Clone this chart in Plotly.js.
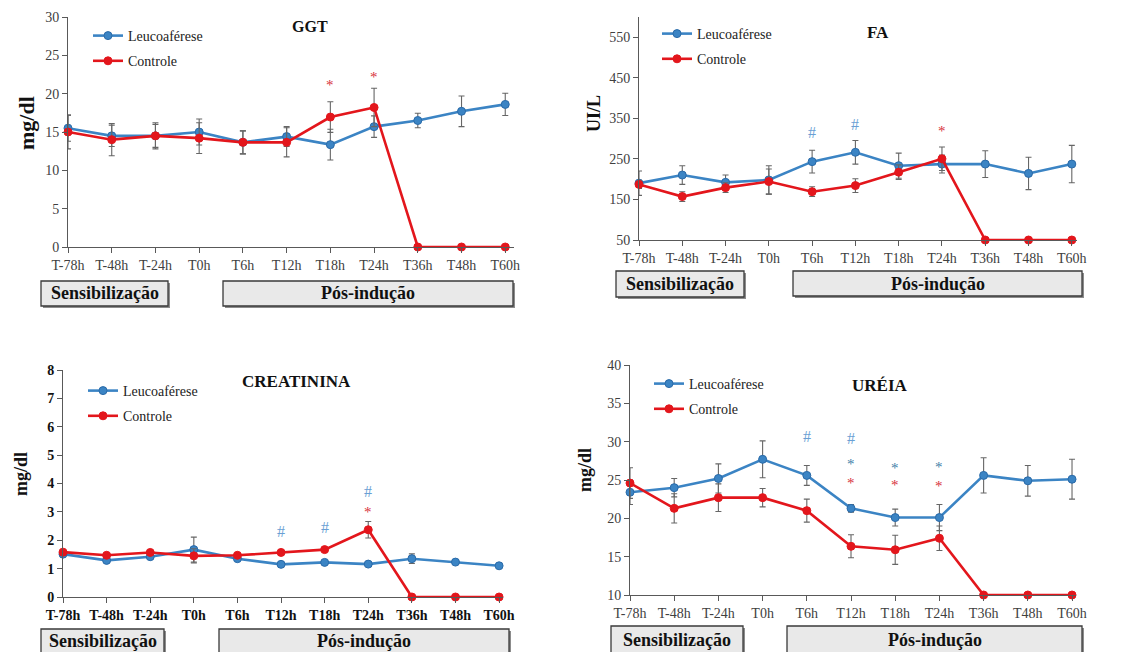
<!DOCTYPE html>
<html>
<head>
<meta charset="utf-8">
<script src="https://cdn.plot.ly/plotly-3.0.1.min.js"></script>
<style>
  html, body { margin: 0; padding: 0; background: #ffffff; }
  #chart { width: 1133px; height: 652px; }
</style>
</head>
<body>
<div id="chart"></div>
<script>
// Sampling times shared by all four panels
const categories = ['T-78h', 'T-48h', 'T-24h', 'T0h', 'T6h', 'T12h', 'T18h', 'T24h', 'T36h', 'T48h', 'T60h'];
const seriesNames = ['Leucoaférese', 'Controle'];

// GGT (mg/dl)
const ggtLeuco       = [15.5, 14.5, 14.5, 15.0, 13.65, 14.4, 13.35, 15.7, 16.5, 17.7, 18.6];
const ggtLeucoErr    = [1.7, 1.4, 1.5, 1.7, 1.5, 1.3, 2.0, 1.4, 0.95, 2.0, 1.45];
const ggtControle    = [15.0, 14.0, 14.5, 14.2, 13.65, 13.65, 16.95, 18.2, 0, 0, 0];
const ggtControleErr = [2.2, 2.1, 1.7, 2.0, 1.5, 1.9, 2.0, 2.5, 0, 0, 0];
const ggtSigCats  = ['T18h', 'T24h'];
const ggtSigY     = [21.5, 22.6];
const ggtSigText  = ['*', '*'];
const ggtSigGroup = ['C', 'C'];

// FA (UI/L)
const faLeuco       = [190, 210, 192, 198, 243, 266, 233, 237, 237, 214, 237];
const faLeucoErr    = [30, 23, 18, 35, 28, 29, 31, 22, 33, 40, 46];
const faControle    = [187, 157, 179, 194, 169, 184, 217, 250, 50, 50, 50];
const faControleErr = [10, 12, 12, 31, 12, 17, 18, 29, 0, 0, 0];
const faSigCats  = ['T6h', 'T12h', 'T24h'];
const faSigY     = [315, 334, 327];
const faSigText  = ['#', '#', '*'];
const faSigGroup = ['L', 'L', 'C'];

// CREATININA (mg/dl)
const creLeuco       = [1.51, 1.29, 1.42, 1.67, 1.35, 1.15, 1.22, 1.16, 1.35, 1.23, 1.10];
const creLeucoErr    = [0.05, 0.05, 0.05, 0.44, 0.06, 0.04, 0.06, 0.04, 0.17, 0.04, 0.04];
const creControle    = [1.58, 1.47, 1.57, 1.45, 1.47, 1.57, 1.67, 2.37, 0, 0, 0];
const creControleErr = [0.04, 0.04, 0.04, 0.25, 0.04, 0.04, 0.04, 0.29, 0, 0, 0];
const creSigCats  = ['T12h', 'T18h', 'T24h', 'T24h'];
const creSigY     = [2.31, 2.46, 3.72, 3.1];
const creSigText  = ['#', '#', '#', '*'];
const creSigGroup = ['L', 'L', 'L', 'C'];

// URÉIA (mg/dl)
const ureLeuco       = [23.4, 24.0, 25.2, 27.7, 25.6, 21.3, 20.1, 20.1, 25.6, 24.9, 25.1];
const ureLeucoErr    = [1.6, 1.2, 1.9, 2.4, 1.3, 0.5, 1.1, 1.7, 2.3, 2.0, 2.6];
const ureControle    = [24.6, 21.3, 22.7, 22.7, 21.0, 16.35, 15.9, 17.4, 10, 10, 10];
const ureControleErr = [2.0, 1.9, 1.8, 1.2, 1.5, 1.5, 1.9, 1.6, 0, 0, 0];
const ureSigCats  = ['T6h', 'T12h', 'T12h', 'T18h', 'T24h', 'T12h', 'T18h', 'T24h'];
const ureSigY     = [30.7, 30.4, 27.5, 27.0, 27.1, 25.0, 24.7, 24.6];
const ureSigText  = ['#', '#', '*', '*', '*', '*', '*', '*'];
const ureSigGroup = ['L', 'L', 'L', 'L', 'L', 'C', 'C', 'C'];

// Phase labels under each time axis
const phaseLabels = ['Sensibilização', 'Pós-indução'];

// ---------------------------------------------------------------------------
const W = 1133, H = 652;
const px = x => x / W;
const py = y => 1 - y / H;

const BLUE = '#3b84c4';
const BLUE_EDGE = '#2a6aa8';
const RED = '#e3161c';
const ERR = '#666666';
const SERIF = 'Liberation Serif';

const panels = [
  { sfx: '',  leuco: ggtLeuco, leucoErr: ggtLeucoErr, ctrl: ggtControle, ctrlErr: ggtControleErr,
    sigCats: ggtSigCats, sigY: ggtSigY, sigText: ggtSigText, sigGroup: ggtSigGroup,
    title: 'GGT', yTitle: 'mg/dl',
    xDom: [68, 514], yDom: [17, 247], xMax: 10.2, yRange: [0, 30], dtick: 5, tick0: 0,
    boldTicks: false, tickColor: '#404040',
    titlePos: [310, 27, 16], yTitlePos: [26, 123, 22],
    legendPos: [88, 20],
    boxes: [[41, 168, 281, 306], [223, 513, 281, 306]], boxTextY: 293 },
  { sfx: '2', leuco: faLeuco, leucoErr: faLeucoErr, ctrl: faControle, ctrlErr: faControleErr,
    sigCats: faSigCats, sigY: faSigY, sigText: faSigText, sigGroup: faSigGroup,
    title: 'FA', yTitle: 'UI/L',
    xDom: [639, 1077], yDom: [16.7, 240], xMax: 10.12, yRange: [50, 600], dtick: 100, tick0: 50,
    boldTicks: false, tickColor: '#404040',
    titlePos: [878, 32, 17], yTitlePos: [594, 114, 18],
    legendPos: [657, 18],
    boxes: [[616, 744, 271, 297], [793, 1082, 271, 296]], boxTextY: 284 },
  { sfx: '3', leuco: creLeuco, leucoErr: creLeucoErr, ctrl: creControle, ctrlErr: creControleErr,
    sigCats: creSigCats, sigY: creSigY, sigText: creSigText, sigGroup: creSigGroup,
    title: 'CREATININA', yTitle: 'mg/dl',
    xDom: [63, 503], yDom: [370, 597], xMax: 10.09, yRange: [0, 8], dtick: 1, tick0: 0,
    boldTicks: true, tickColor: '#111111',
    titlePos: [296, 382, 17], yTitlePos: [21, 474, 18],
    legendPos: [83, 375],
    boxes: [[41, 164, 629, 668], [219, 509, 629, 668]], boxTextY: 641 },
  { sfx: '4', leuco: ureLeuco, leucoErr: ureLeucoErr, ctrl: ureControle, ctrlErr: ureControleErr,
    sigCats: ureSigCats, sigY: ureSigY, sigText: ureSigText, sigGroup: ureSigGroup,
    title: 'URÉIA', yTitle: 'mg/dl',
    xDom: [630, 1076], yDom: [365, 595], xMax: 10.09, yRange: [10, 40], dtick: 5, tick0: 10,
    boldTicks: false, tickColor: '#404040',
    titlePos: [880, 385, 17], yTitlePos: [585, 470, 18],
    legendPos: [649, 368],
    boxes: [[611, 743, 626, 668], [787, 1082, 626, 668]], boxTextY: 640 }
];

const traces = [];
const layout = {
  width: W, height: H,
  margin: { l: 0, r: 0, t: 0, b: 0 },
  paper_bgcolor: '#ffffff', plot_bgcolor: 'rgba(0,0,0,0)',
  font: { family: SERIF, size: 14, color: '#222222' },
  showlegend: true,
  annotations: [], shapes: []
};

function paperText(x, y, text, size, extra) {
  return Object.assign({
    xref: 'paper', yref: 'paper', x: px(x), y: py(y),
    xanchor: 'center', yanchor: 'middle',
    text: text, showarrow: false,
    font: { family: SERIF, size: size, color: '#111111' }
  }, extra || {});
}

panels.forEach((p, i) => {
  const xa = 'x' + p.sfx, ya = 'y' + p.sfx;
  const legendId = i === 0 ? 'legend' : 'legend' + (i + 1);
  const series = [
    { name: seriesNames[0], y: p.leuco, err: p.leucoErr, color: BLUE, edge: BLUE_EDGE },
    { name: seriesNames[1], y: p.ctrl, err: p.ctrlErr, color: RED, edge: RED }
  ];
  series.forEach((s, k) => {
    traces.push({
      type: 'scatter', mode: 'lines+markers',
      x: categories, y: s.y, name: s.name,
      xaxis: xa, yaxis: ya, legend: legendId, legendgroup: legendId + k,
      line: { color: s.color, width: 2.6 },
      marker: { color: s.color, size: 8, symbol: 'circle', line: { color: s.edge, width: 1 } },
      error_y: { type: 'data', array: s.err, visible: true, color: ERR, thickness: 1.1, width: 3 },
      cliponaxis: false
    });
  });

  const tickFont = { family: SERIF, size: 14, color: p.tickColor, weight: p.boldTicks ? 'bold' : 'normal' };
  layout['xaxis' + p.sfx] = {
    domain: [px(p.xDom[0]), px(p.xDom[1])], anchor: ya,
    type: 'category', range: [0, p.xMax],
    showline: true, linecolor: '#595959', linewidth: 1,
    ticks: 'outside', ticklen: 5, tickcolor: '#595959',
    showgrid: false, zeroline: false, fixedrange: true,
    tickfont: tickFont
  };
  layout['yaxis' + p.sfx] = {
    domain: [py(p.yDom[1]), py(p.yDom[0])], anchor: xa,
    range: p.yRange, tick0: p.tick0, dtick: p.dtick,
    showline: true, linecolor: '#595959', linewidth: 1,
    ticks: 'outside', ticklen: 5, tickcolor: '#595959',
    showgrid: false, zeroline: false, fixedrange: true,
    tickfont: tickFont
  };
  layout[legendId] = {
    x: px(p.legendPos[0]), y: py(p.legendPos[1]), xanchor: 'left', yanchor: 'top',
    bgcolor: 'rgba(0,0,0,0)', borderwidth: 0,
    font: { family: SERIF, size: 14, color: '#222222' },
    itemwidth: 30, tracegroupgap: 4
  };

  // Panel title and y axis title
  layout.annotations.push(paperText(p.titlePos[0], p.titlePos[1], '<b>' + p.title + '</b>', p.titlePos[2]));
  layout.annotations.push(paperText(p.yTitlePos[0], p.yTitlePos[1], '<b>' + p.yTitle + '</b>', p.yTitlePos[2],
    { textangle: -90 }));

  // Significance marks
  p.sigCats.forEach((c, j) => {
    const isHash = p.sigText[j] === '#';
    const col = p.sigGroup[j] === 'C' ? '#d8323c' : (isHash ? '#6a9fd4' : '#3f7fa8');
    layout.annotations.push({
      xref: xa, yref: ya, x: c, y: p.sigY[j], text: p.sigText[j], showarrow: false,
      xanchor: 'center', yanchor: 'middle',
      font: { family: SERIF, size: isHash ? 16 : 15, color: col },
      yshift: isHash ? 0 : -3
    });
  });

  // Phase boxes with drop shadow
  p.boxes.forEach((b, j) => {
    layout.shapes.push({
      type: 'rect', xref: 'paper', yref: 'paper', layer: 'below',
      x0: px(b[0] + 2), x1: px(b[1] + 2), y0: py(b[3] + 2), y1: py(b[2] + 2),
      fillcolor: '#8c8c8c', line: { width: 0 }
    });
    layout.shapes.push({
      type: 'rect', xref: 'paper', yref: 'paper', layer: 'below',
      x0: px(b[0]), x1: px(b[1]), y0: py(b[3]), y1: py(b[2]),
      fillcolor: '#e9e9e9', line: { color: '#3a3a3a', width: 1.3 }
    });
    layout.annotations.push(paperText((b[0] + b[1]) / 2, p.boxTextY, '<b>' + phaseLabels[j] + '</b>', 18));
  });
});

Plotly.newPlot('chart', traces, layout, { staticPlot: true, displayModeBar: false });
</script>
</body>
</html>
